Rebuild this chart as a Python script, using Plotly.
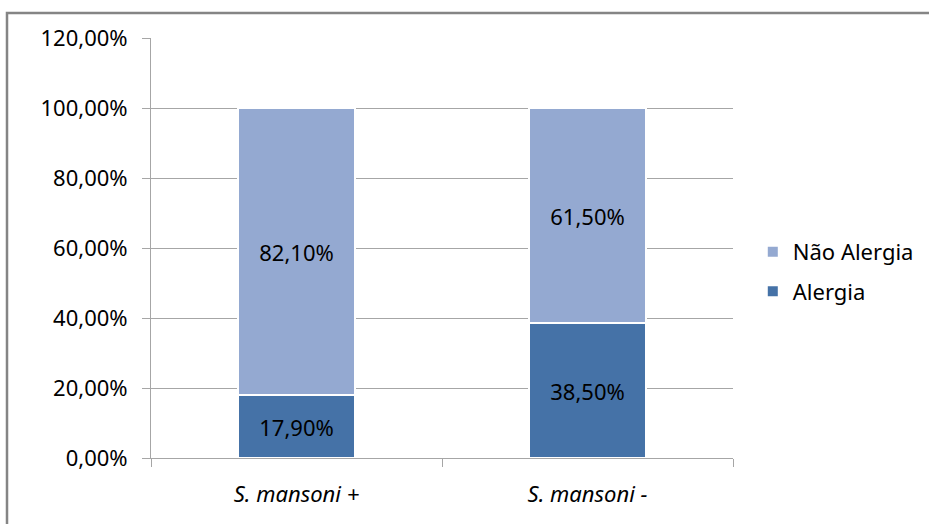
import plotly.graph_objects as go

categories = ["S. mansoni +", "S. mansoni -"]
alergia = [0.179, 0.385]
nao_alergia = [0.821, 0.615]

font_family = "Noto Sans"
font_size = 22
grid_color = "#A6A6A6"

fig = go.Figure()
fig.add_trace(go.Bar(
    name="Alergia", x=categories, y=alergia,
    marker=dict(color="#4572A7", line=dict(color="white", width=2)),
    texttemplate="%{y:.2%}", textposition="inside", insidetextanchor="middle",
    textfont=dict(color="black", size=font_size, family=font_family),
    legendrank=2, legendgroup="alergia", width=0.4,
))
fig.add_trace(go.Bar(
    name="Não Alergia", x=categories, y=nao_alergia,
    marker=dict(color="#94A9D1", line=dict(color="white", width=2)),
    texttemplate="%{y:.2%}", textposition="inside", insidetextanchor="middle",
    textfont=dict(color="black", size=font_size, family=font_family),
    legendrank=1, legendgroup="nao", width=0.4,
))

fig.update_layout(
    width=929, height=524,
    margin=dict(l=151, r=196, t=38, b=66, autoexpand=False),
    barmode="stack",
    separators=",.",
    paper_bgcolor="white", plot_bgcolor="white",
    font=dict(family=font_family, size=font_size, color="black"),
    showlegend=True,
    legend=dict(
        x=1.034, y=0.443, xanchor="left", yanchor="middle",
        traceorder="grouped", tracegroupgap=8,
        font=dict(size=font_size, family=font_family, color="black"),
        itemwidth=30,
    ),
    uniformtext=dict(mode=False),
)

fig.update_yaxes(
    range=[0, 1.2], dtick=0.2, tick0=0, tickformat=".2%",
    showgrid=True, gridcolor=grid_color, gridwidth=1,
    showline=True, linecolor=grid_color, linewidth=1,
    ticks="outside", ticklen=8, tickcolor=grid_color,
    ticklabelstandoff=10, zeroline=False,
    tickfont=dict(size=font_size, family=font_family, color="black"),
)
fig.update_xaxes(
    type="category", categoryorder="array", categoryarray=categories,
    showline=True, linecolor=grid_color, linewidth=1,
    ticks="outside", ticklen=8, tickcolor=grid_color, tickson="boundaries",
    ticklabelstandoff=17,
    tickfont=dict(size=font_size, family=font_family, color="black", style="italic"),
    showgrid=False,
)

# chart frame
fig.add_shape(
    type="rect", xref="paper", yref="paper",
    x0=(7 - 151) / 582, x1=1.6, y0=-0.5, y1=(458 - 13) / 420,
    line=dict(color="#858585", width=2.5), fillcolor="rgba(0,0,0,0)",
    layer="below",
)

fig.write_html("out.html")
